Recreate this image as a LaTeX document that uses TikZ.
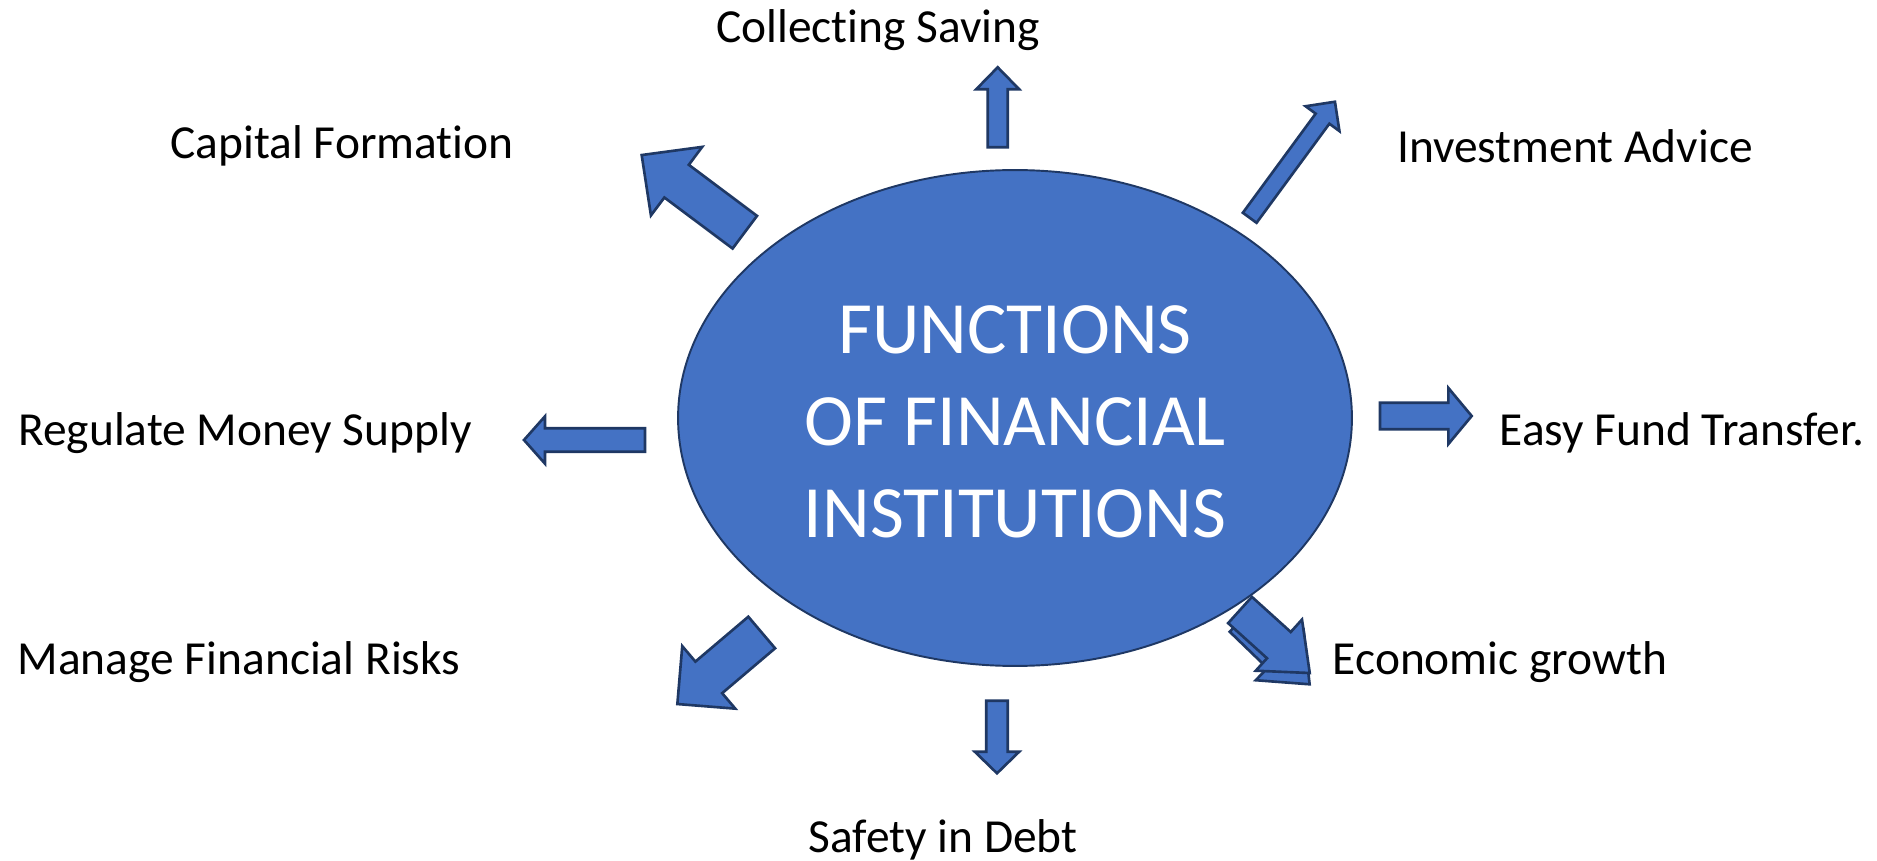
\documentclass[tikz,border=0pt]{standalone}
\usepackage{fontspec}
\setmainfont{Carlito}[RawFeature={-liga;-clig;-dlig}]
\usetikzlibrary{shapes.geometric}
\definecolor{bodyblue}{HTML}{4472C4}
\definecolor{edgeblue}{HTML}{1F3864}
\tikzset{
  arrowbody/.style={fill=bodyblue, draw=edgeblue, line width=1.5pt, line join=miter},
  hub/.style={ellipse, fill=bodyblue, draw=edgeblue, line width=1.1pt,
    minimum width=13.48cm, minimum height=9.92cm, inner sep=0pt},
  hubtext/.style={text=white, font=\fontsize{42}{52.5}\selectfont, align=center},
  label/.style={font=\fontsize{27}{32}\selectfont, inner sep=0pt},
  % block arrow drawn from its tail centre along the local x axis
  % #1 length, #2 shaft half-width, #3 head half-width, #4 head length
  pics/blockarrow/.style n args={4}{code={
    \draw[arrowbody] (0,-#2) -- ({#1-#4},-#2) -- ({#1-#4},-#3) -- (#1,0)
      -- ({#1-#4},#3) -- ({#1-#4},#2) -- (0,#2) -- cycle;
  }}
}
\begin{document}
\begin{tikzpicture}[x=0.02cm, y=-0.02cm]
  \useasboundingbox (0,0) rectangle (1877,861);

  % central ellipse
  \node[hub] (hub) at (1015,418) {};
  \node[hubtext] (title) at (1015,422) {FUNCTIONS\\OF FINANCIAL\\INSTITUTIONS};

  % arrows radiating from the ellipse
  \pic[rotate=143.2] at (744.8,232.2) {blockarrow={128.8}{20.4}{42.8}{43.6}};
  \pic[rotate=90]    at (997.7,147.3) {blockarrow={80}{10}{21.5}{22}};
  \pic[rotate=53.7]  at (1249.7,217.8) {blockarrow={144}{8.5}{21}{21}};
  \pic[rotate=180]   at (645,440) {blockarrow={121}{11.7}{23.7}{21}};
  \pic[rotate=0]     at (1380,416) {blockarrow={91.7}{13.3}{28}{23.3}};
  \pic[rotate=-44]   at (1242,619) {blockarrow={94}{17.7}{34.5}{41.6}};
  \pic[rotate=-42.1] at (1240,610) {blockarrow={94}{17.7}{34.5}{41.6}};
  \pic[rotate=220.3] at (761.7,632.5) {blockarrow={110.6}{20.7}{41}{41.2}};
  \pic[rotate=-90]   at (997,700.7) {blockarrow={72.6}{10.8}{22.2}{21.6}};

  % function labels
  \node[label] (saving)  at (878,30)   {Collecting Saving};
  \node[label] (capital) at (342,146)  {Capital Formation};
  \node[label] (advice)  at (1575,146) {Investment Advice};
  \node[label] (money)   at (245,433)  {Regulate Money Supply};
  \node[label] (fund)    at (1682,433) {Easy Fund Transfer.};
  \node[label] (risks)   at (239,662)  {Manage Financial Risks};
  \node[label] (growth)  at (1500,662) {Economic growth};
  \node[label] (debt)    at (943,840)  {Safety in Debt};
\end{tikzpicture}
\end{document}
